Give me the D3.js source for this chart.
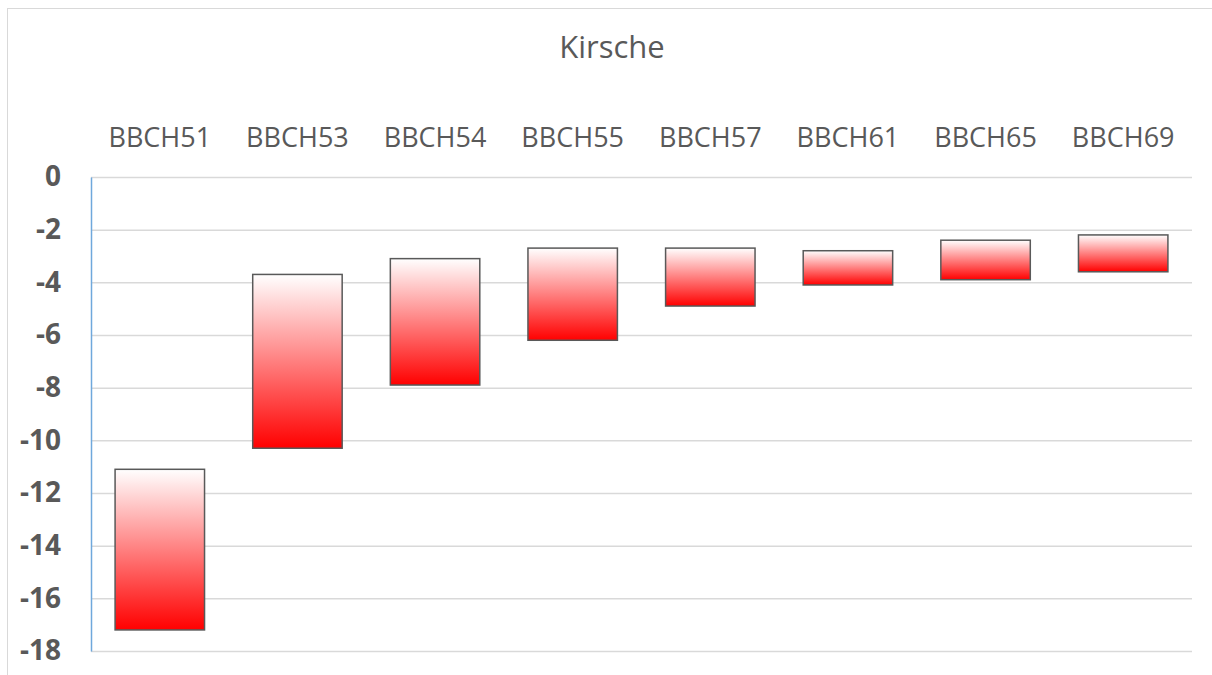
<!DOCTYPE html>
<html>
<head>
<meta charset="utf-8">
<script src="https://cdn.jsdelivr.net/npm/d3@7"></script>
<style>
    body { margin: 0; background: #fff; }
    svg { display: block; font-family: "Open Sans", sans-serif; }
</style>
</head>
<body>
<div id="chart"></div>
<script>
// stage names, shown along the top
const categories = ['BBCH51', 'BBCH53', 'BBCH54', 'BBCH55', 'BBCH57', 'BBCH61', 'BBCH65', 'BBCH69'];
// top and bottom of each floating bar
const highValues = [-11.1, -3.7, -3.1, -2.7, -2.7, -2.8, -2.4, -2.2];
const lowValues = [-17.2, -10.3, -7.9, -6.2, -4.9, -4.1, -3.9, -3.6];
const yTicks = [0, -2, -4, -6, -8, -10, -12, -14, -16, -18];

const width = 1212;
const height = 675;
const margin = { top: 177, right: 20, bottom: 24, left: 91 };

const svg = d3
    .select('#chart')
    .append('svg')
    .attr('width', width)
    .attr('height', height);

// outer chart frame
svg.append('rect')
    .attr('x', 7.5)
    .attr('y', 8.5)
    .attr('width', width + 10)
    .attr('height', height + 10)
    .attr('fill', 'none')
    .attr('stroke', '#d9d9d9');

const xScale = d3
    .scaleBand()
    .domain(categories)
    .range([margin.left, width - margin.right])
    .paddingInner(0.35)
    .paddingOuter(0.175);

const yScale = d3.scaleLinear().domain([0, -18]).range([margin.top, height - margin.bottom]);

// gradient for the bars: white on top, red at the bottom
const grad = svg.append('defs')
    .append('linearGradient')
    .attr('id', 'barFill')
    .attr('x1', 0).attr('y1', 0)
    .attr('x2', 0).attr('y2', 1);
grad.append('stop').attr('offset', '0%').attr('stop-color', '#ffffff');
grad.append('stop').attr('offset', '100%').attr('stop-color', '#ff0000');

// gridlines
svg.append('g')
    .attr('class', 'gridlines')
    .attr('transform', `translate(${margin.left}, 0)`)
    .call(d3.axisLeft(yScale)
        .tickValues(yTicks)
        .tickFormat('')
        .tickSize(-(width - margin.left - margin.right)))
    .call(g => g.select('.domain').remove())
    .call(g => g.selectAll('line').attr('stroke', '#d9d9d9').attr('stroke-width', 1.5));

// y axis (plain hyphen for the minus sign, like the original)
const yAxis = svg.append('g')
    .attr('transform', `translate(${margin.left}, 0)`)
    .call(d3.axisLeft(yScale)
        .tickValues(yTicks)
        .tickFormat(d => String(d))
        .tickSize(0)
        .tickPadding(30));
yAxis.select('.domain').attr('stroke', '#6fa8dc').attr('stroke-width', 1.5);
yAxis.selectAll('text')
    .attr('fill', '#595959')
    .attr('font-size', 28)
    .attr('font-weight', 'bold')
    .attr('font-family', '"Open Sans", sans-serif');

// category labels at the top
const xAxis = svg.append('g')
    .attr('transform', `translate(0, ${margin.top})`)
    .call(d3.axisTop(xScale).tickSize(0).tickPadding(30));
xAxis.select('.domain').remove();
xAxis.selectAll('text')
    .attr('fill', '#595959')
    .attr('font-size', 27)
    .attr('font-family', '"Open Sans", sans-serif');

// floating bars
svg.append('g')
    .selectAll('rect')
    .data(categories)
    .join('rect')
    .attr('x', d => xScale(d))
    .attr('width', xScale.bandwidth())
    .attr('y', (d, i) => yScale(highValues[i]))
    .attr('height', (d, i) => yScale(lowValues[i]) - yScale(highValues[i]))
    .attr('fill', 'url(#barFill)')
    .attr('stroke', '#595959')
    .attr('stroke-width', 1.5);

// title
svg.append('text')
    .attr('x', 612)
    .attr('y', 58)
    .attr('text-anchor', 'middle')
    .attr('fill', '#595959')
    .attr('font-size', 31)
    .text('Kirsche');
</script>
</body>
</html>
